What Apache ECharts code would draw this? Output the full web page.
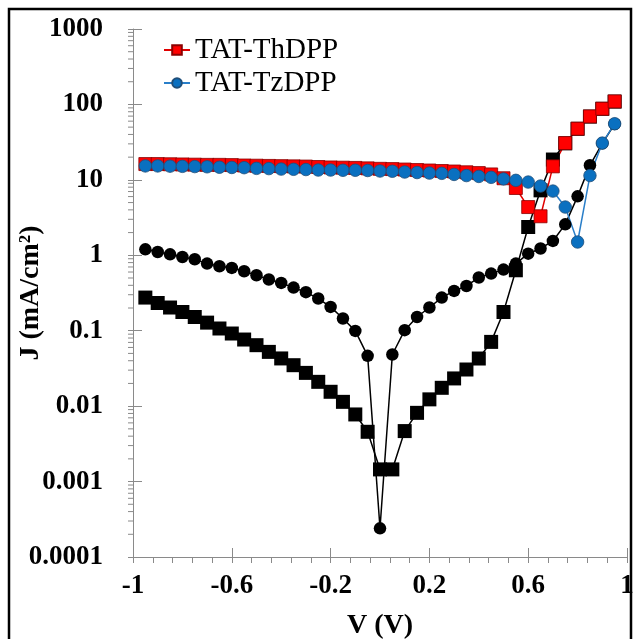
<!DOCTYPE html>
<html>
<head>
<meta charset="utf-8">
<script src="https://cdn.jsdelivr.net/npm/echarts@6/dist/echarts.min.js"></script>
<style>
  html, body { margin: 0; padding: 0; background: #fff; }
  #chart { width: 633px; height: 639px; }
</style>
</head>
<body>
<div id="chart"></div>
<script>
// Bias voltage (V)
const voltage = [
  -0.95, -0.9, -0.85, -0.8, -0.75, -0.7, -0.65, -0.6, -0.55, -0.5,
  -0.45, -0.4, -0.35, -0.3, -0.25, -0.2, -0.15, -0.1, -0.05, 0,
  0.05, 0.1, 0.15, 0.2, 0.25, 0.3, 0.35, 0.4, 0.45, 0.5,
  0.55, 0.6, 0.65, 0.7, 0.75, 0.8, 0.85, 0.9, 0.95
];

// Current density |J| (mA/cm2) under illumination
const thDppLight = [
  16.2, 16.2, 16.1, 16.0, 15.9, 15.8, 15.8, 15.7, 15.5, 15.4,
  15.3, 15.2, 15.1, 15.0, 14.8, 14.6, 14.5, 14.4, 14.2, 14.0,
  13.9, 13.7, 13.5, 13.3, 13.1, 12.9, 12.6, 12.3, 11.8, 10.5,
  7.8, 4.36, 3.29, 15.1, 30.7, 47.7, 69.3, 87.7, 109.6
];
const tzDppLight = [
  15.3, 15.3, 15.2, 15.1, 15.0, 14.9, 14.7, 14.6, 14.5, 14.2,
  14.1, 13.9, 13.8, 13.7, 13.5, 13.5, 13.4, 13.4, 13.3, 13.1,
  13.0, 12.7, 12.5, 12.3, 12.2, 11.8, 11.4, 11.1, 10.8, 10.3,
  9.85, 9.35, 8.28, 7.1, 4.36, 1.5, 11.4, 30.7, 55.5
];

// Current density |J| (mA/cm2) in the dark
const thDppDark = [
  0.275, 0.233, 0.203, 0.177, 0.152, 0.128, 0.107, 0.0918, 0.0764, 0.0643,
  0.0524, 0.0429, 0.0349, 0.0276, 0.021, 0.0155, 0.0114, 0.00776, 0.00457, 0.00145,
  0.00145, 0.00467, 0.00815, 0.0123, 0.0175, 0.0233, 0.0306, 0.0428, 0.0711, 0.177,
  0.633, 2.37, 7.26, 18.6, 30.5, 47.5, 69, 87.5, 109
];
const tzDppDark = [
  1.20, 1.106, 1.03, 0.95, 0.885, 0.776, 0.715, 0.68, 0.614, 0.543,
  0.477, 0.43, 0.373, 0.324, 0.267, 0.207, 0.145, 0.0995, 0.0464, 0.00024,
  0.0484, 0.1016, 0.152, 0.203, 0.275, 0.337, 0.392, 0.507, 0.572, 0.646,
  0.776, 1.05, 1.23, 1.55, 2.57, 6.04, 15.6, 30.5, 55
];

// Axis tick labels
const xTickLabels = ['-1', '-0.6', '-0.2', '0.2', '0.6', '1'];
const yTickLabels = ['0.0001', '0.001', '0.01', '0.1', '1', '10', '100', '1000'];
// Mantissas of the minor ticks inside each decade of the log axis
const logMinorSteps = [2, 3, 4, 5, 6, 7, 8, 9];

const FONT = 'Liberation Serif';
const AXIS_GREY = '#8a8a8a';
const X_MIN = -1, X_MAX = 1, X_STEP = 0.4;
const Y_MIN = 0.0001, Y_MAX = 1000;

const pairs = (ys) => voltage.map((v, i) => [v, ys[i]]);

const minorTickData = [];
for (let e = Math.log10(Y_MIN); e < Math.log10(Y_MAX); e++) {
  logMinorSteps.forEach((m) => minorTickData.push([X_MIN, m * Math.pow(10, e)]));
}

const gridBox = { left: 133, right: 6, top: 29, bottom: 82, outerBoundsMode: 'none', containLabel: false };

const chart = echarts.init(document.getElementById('chart'), null, { renderer: 'canvas' });

chart.setOption({
  animation: false,
  backgroundColor: '#ffffff',
  graphic: [{
    type: 'rect',
    shape: { x: 9, y: 9, width: 622, height: 650 },
    style: { fill: 'none', stroke: '#000', lineWidth: 2.5 },
    silent: true,
    z: 100
  }],
  grid: [Object.assign({}, gridBox), Object.assign({}, gridBox)],
  legend: {
    data: ['TAT-ThDPP', 'TAT-TzDPP'],
    orient: 'vertical',
    left: 158,
    top: 30,
    padding: 5,
    itemWidth: 26,
    itemHeight: 12,
    itemGap: 3,
    textStyle: { fontFamily: FONT, fontSize: 29, color: '#000', lineHeight: 30 }
  },
  xAxis: [{
    type: 'value',
    gridIndex: 0,
    min: X_MIN, max: X_MAX, interval: X_STEP,
    name: 'V (V)',
    nameLocation: 'middle',
    nameGap: 55,
    nameMoveOverlap: false,
    nameTextStyle: { fontFamily: FONT, fontSize: 28, fontWeight: 'bold', color: '#000' },
    axisLine: { show: true, onZero: false, lineStyle: { color: AXIS_GREY, width: 1 } },
    axisTick: { show: true, inside: false, length: 6, lineStyle: { color: AXIS_GREY } },
    minorTick: { show: true, splitNumber: 5, length: 6, lineStyle: { color: AXIS_GREY } },
    splitLine: { show: false },
    axisLabel: {
      margin: 16,
      fontFamily: FONT, fontSize: 27, fontWeight: 'bold', color: '#000',
      formatter: (v) => xTickLabels[Math.round((v - X_MIN) / X_STEP)]
    }
  }, {
    type: 'value',
    gridIndex: 1,
    min: X_MIN, max: X_MAX, interval: X_STEP,
    axisLine: { show: false, onZero: false },
    axisTick: { show: true, inside: true, length: 9, lineStyle: { color: AXIS_GREY } },
    axisLabel: { show: false },
    splitLine: { show: false }
  }],
  yAxis: [{
    type: 'log',
    gridIndex: 0,
    logBase: 10,
    min: Y_MIN, max: Y_MAX,
    name: 'J (mA/cm²)',
    nameLocation: 'middle',
    nameGap: 88,
    nameMoveOverlap: false,
    nameTextStyle: { fontFamily: FONT, fontSize: 28, fontWeight: 'bold', color: '#000' },
    axisLine: { show: true, onZero: false, lineStyle: { color: AXIS_GREY, width: 1 } },
    axisTick: { show: true, inside: false, length: 5, lineStyle: { color: AXIS_GREY } },
    minorTick: { show: false },
    splitLine: { show: false },
    axisLabel: {
      margin: 30,
      fontFamily: FONT, fontSize: 27, fontWeight: 'bold', color: '#000',
      formatter: (v) => yTickLabels[Math.round(Math.log10(v) - Math.log10(Y_MIN))]
    }
  }, {
    type: 'log',
    gridIndex: 1,
    logBase: 10,
    min: Y_MIN, max: Y_MAX,
    axisLine: { show: false, onZero: false },
    axisTick: { show: true, inside: true, length: 9, lineStyle: { color: AXIS_GREY } },
    axisLabel: { show: false },
    splitLine: { show: false }
  }],
  series: [
    {
      // minor ticks of the log axis at 2..9 x 10^n
      type: 'custom',
      xAxisIndex: 0, yAxisIndex: 0,
      silent: true,
      data: minorTickData,
      renderItem: (params, api) => {
        const p = api.coord([api.value(0), api.value(1)]);
        return {
          type: 'line',
          shape: { x1: p[0] - 5, y1: p[1], x2: p[0], y2: p[1] },
          style: { stroke: AXIS_GREY, lineWidth: 1 }
        };
      }
    },
    {
      name: 'TAT-ThDPP dark',
      type: 'line',
      data: pairs(thDppDark),
      symbol: 'rect', symbolSize: 14,
      lineStyle: { color: '#000', width: 1.5 },
      itemStyle: { color: '#000', borderColor: '#000', borderWidth: 0 }
    },
    {
      name: 'TAT-TzDPP dark',
      type: 'line',
      data: pairs(tzDppDark),
      symbol: 'circle', symbolSize: 12.5,
      lineStyle: { color: '#000', width: 1.5 },
      itemStyle: { color: '#000', borderColor: '#000', borderWidth: 0 }
    },
    {
      name: 'TAT-ThDPP',
      type: 'line',
      data: pairs(thDppLight),
      symbol: 'rect', symbolSize: 13,
      lineStyle: { color: '#e00000', width: 1.5 },
      itemStyle: { color: '#ff0000', borderColor: '#8b0000', borderWidth: 0.8 }
    },
    {
      name: 'TAT-TzDPP',
      type: 'line',
      data: pairs(tzDppLight),
      symbol: 'circle', symbolSize: 12.5,
      lineStyle: { color: '#2a7fc9', width: 1.5 },
      itemStyle: { color: '#0a70c0', borderColor: '#1f4e79', borderWidth: 0.8 }
    }
  ]
});
</script>
</body>
</html>
